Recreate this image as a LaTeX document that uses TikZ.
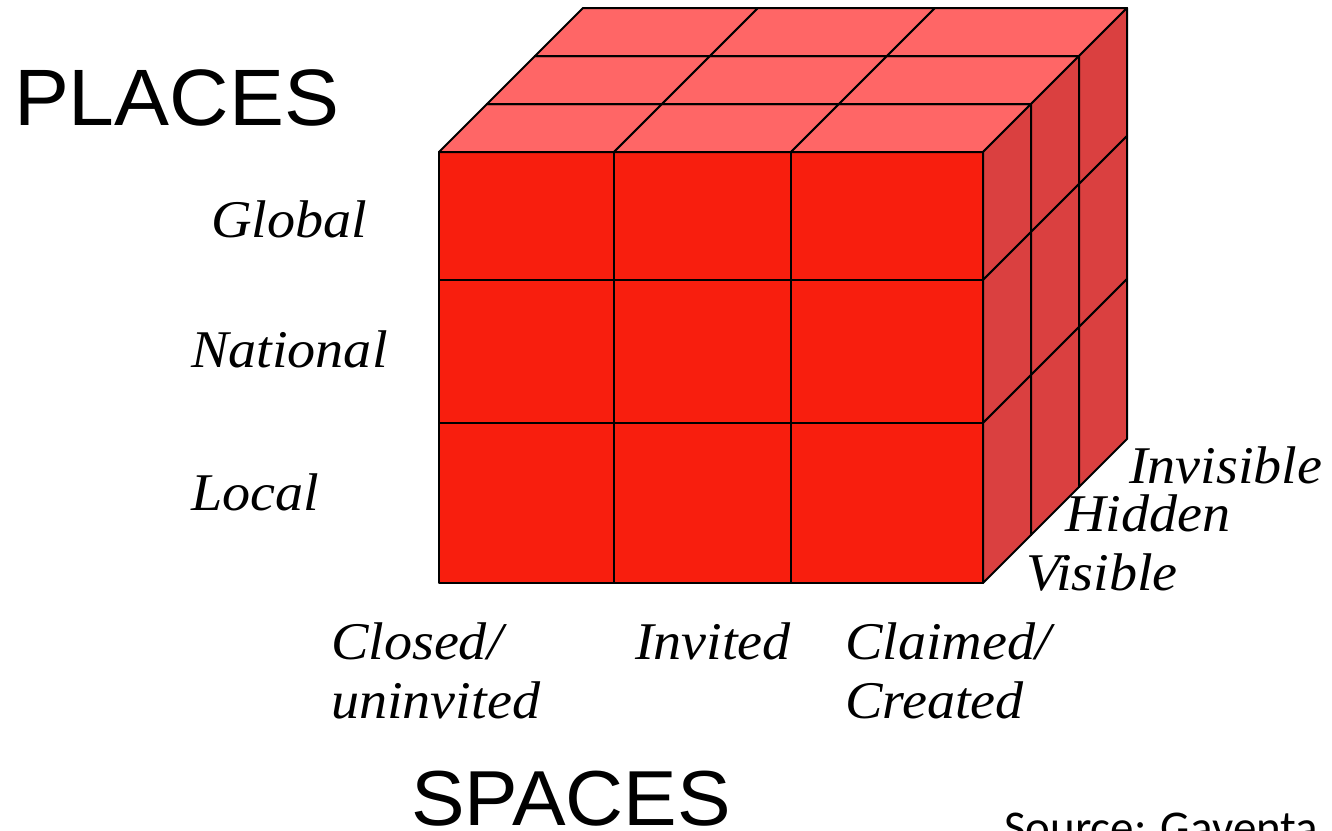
\documentclass[tikz,border=0pt]{standalone}
\usepackage{fontspec}
\setmainfont{Liberation Serif}
\newfontfamily\catfont{Liberation Serif}[FakeStretch=1.06]
\newfontfamily\headfont{Liberation Sans}[FakeStretch=1.03]
\newfontfamily\notefont{Carlito}
\usetikzlibrary{positioning}
\definecolor{frontred}{RGB}{248,30,14}
\definecolor{topred}{RGB}{255,102,102}
\definecolor{sidered}{RGB}{218,64,64}

\begin{document}
\begin{tikzpicture}[x=1pt, y=-1pt, line width=2pt, line join=round,
  cell/.style={draw=black},
  dimlabel/.style={font=\catfont\fontsize{53}{60}\selectfont\itshape, anchor=base west, inner sep=0pt},
  axislabel/.style={font=\headfont\fontsize{80}{96}\selectfont, anchor=base west, inner sep=0pt}]
  \useasboundingbox (0,0) rectangle (1332,830);
  \clip (0,0) rectangle (1332,830);

  % front face
  \foreach \xa/\xb in {439/614,614/791,791/983}
    \foreach \ya/\yb in {152/280,280/423,423/583}
      \draw[cell, fill=frontred] (\xa,\ya) rectangle (\xb,\yb);
  % top face
  \foreach \xa/\xb in {439/614,614/791,791/983}
    \foreach \k in {0,1,2}
      \draw[cell, fill=topred] (\xa+48*\k, 152-48*\k) -- (\xb+48*\k, 152-48*\k)
        -- (\xb+48+48*\k, 104-48*\k) -- (\xa+48+48*\k, 104-48*\k) -- cycle;
  % side face
  \foreach \ya/\yb in {152/280,280/423,423/583}
    \foreach \k in {0,1,2}
      \draw[cell, fill=sidered] (983+48*\k, \ya-48*\k) -- (1031+48*\k, \ya-48-48*\k)
        -- (1031+48*\k, \yb-48-48*\k) -- (983+48*\k, \yb-48*\k) -- cycle;

  % places
  \node[axislabel] (places) at (13,125) {PLACES};
  \node[dimlabel] (global) at (210,237) {Global};
  \node[dimlabel] (national) at (190,367) {National};
  \node[dimlabel] (local) at (190,510) {Local};
  % spaces
  \node[dimlabel] (closed) at (330,659) {Closed/};
  \node[dimlabel] (uninvited) at (330,718) {uninvited};
  \node[dimlabel] (invited) at (634,659) {Invited};
  \node[dimlabel] (claimed) at (844,659) {Claimed/};
  \node[dimlabel] (created) at (844,718) {Created};
  \node[axislabel, font=\headfont\fontsize{78}{94}\selectfont] (spaces) at (410,825) {SPACES};
  % power
  \node[dimlabel] (visible) at (1025,590) {Visible};
  \node[dimlabel] (hidden) at (1064,531) {Hidden};
  \node[dimlabel] (invisible) at (1128,483) {Invisible};

  \node[font=\notefont\fontsize{47}{56}\selectfont, anchor=base west, inner sep=0pt]
    (source) at (1003,843) {Source: Gaventa};
\end{tikzpicture}
\end{document}
